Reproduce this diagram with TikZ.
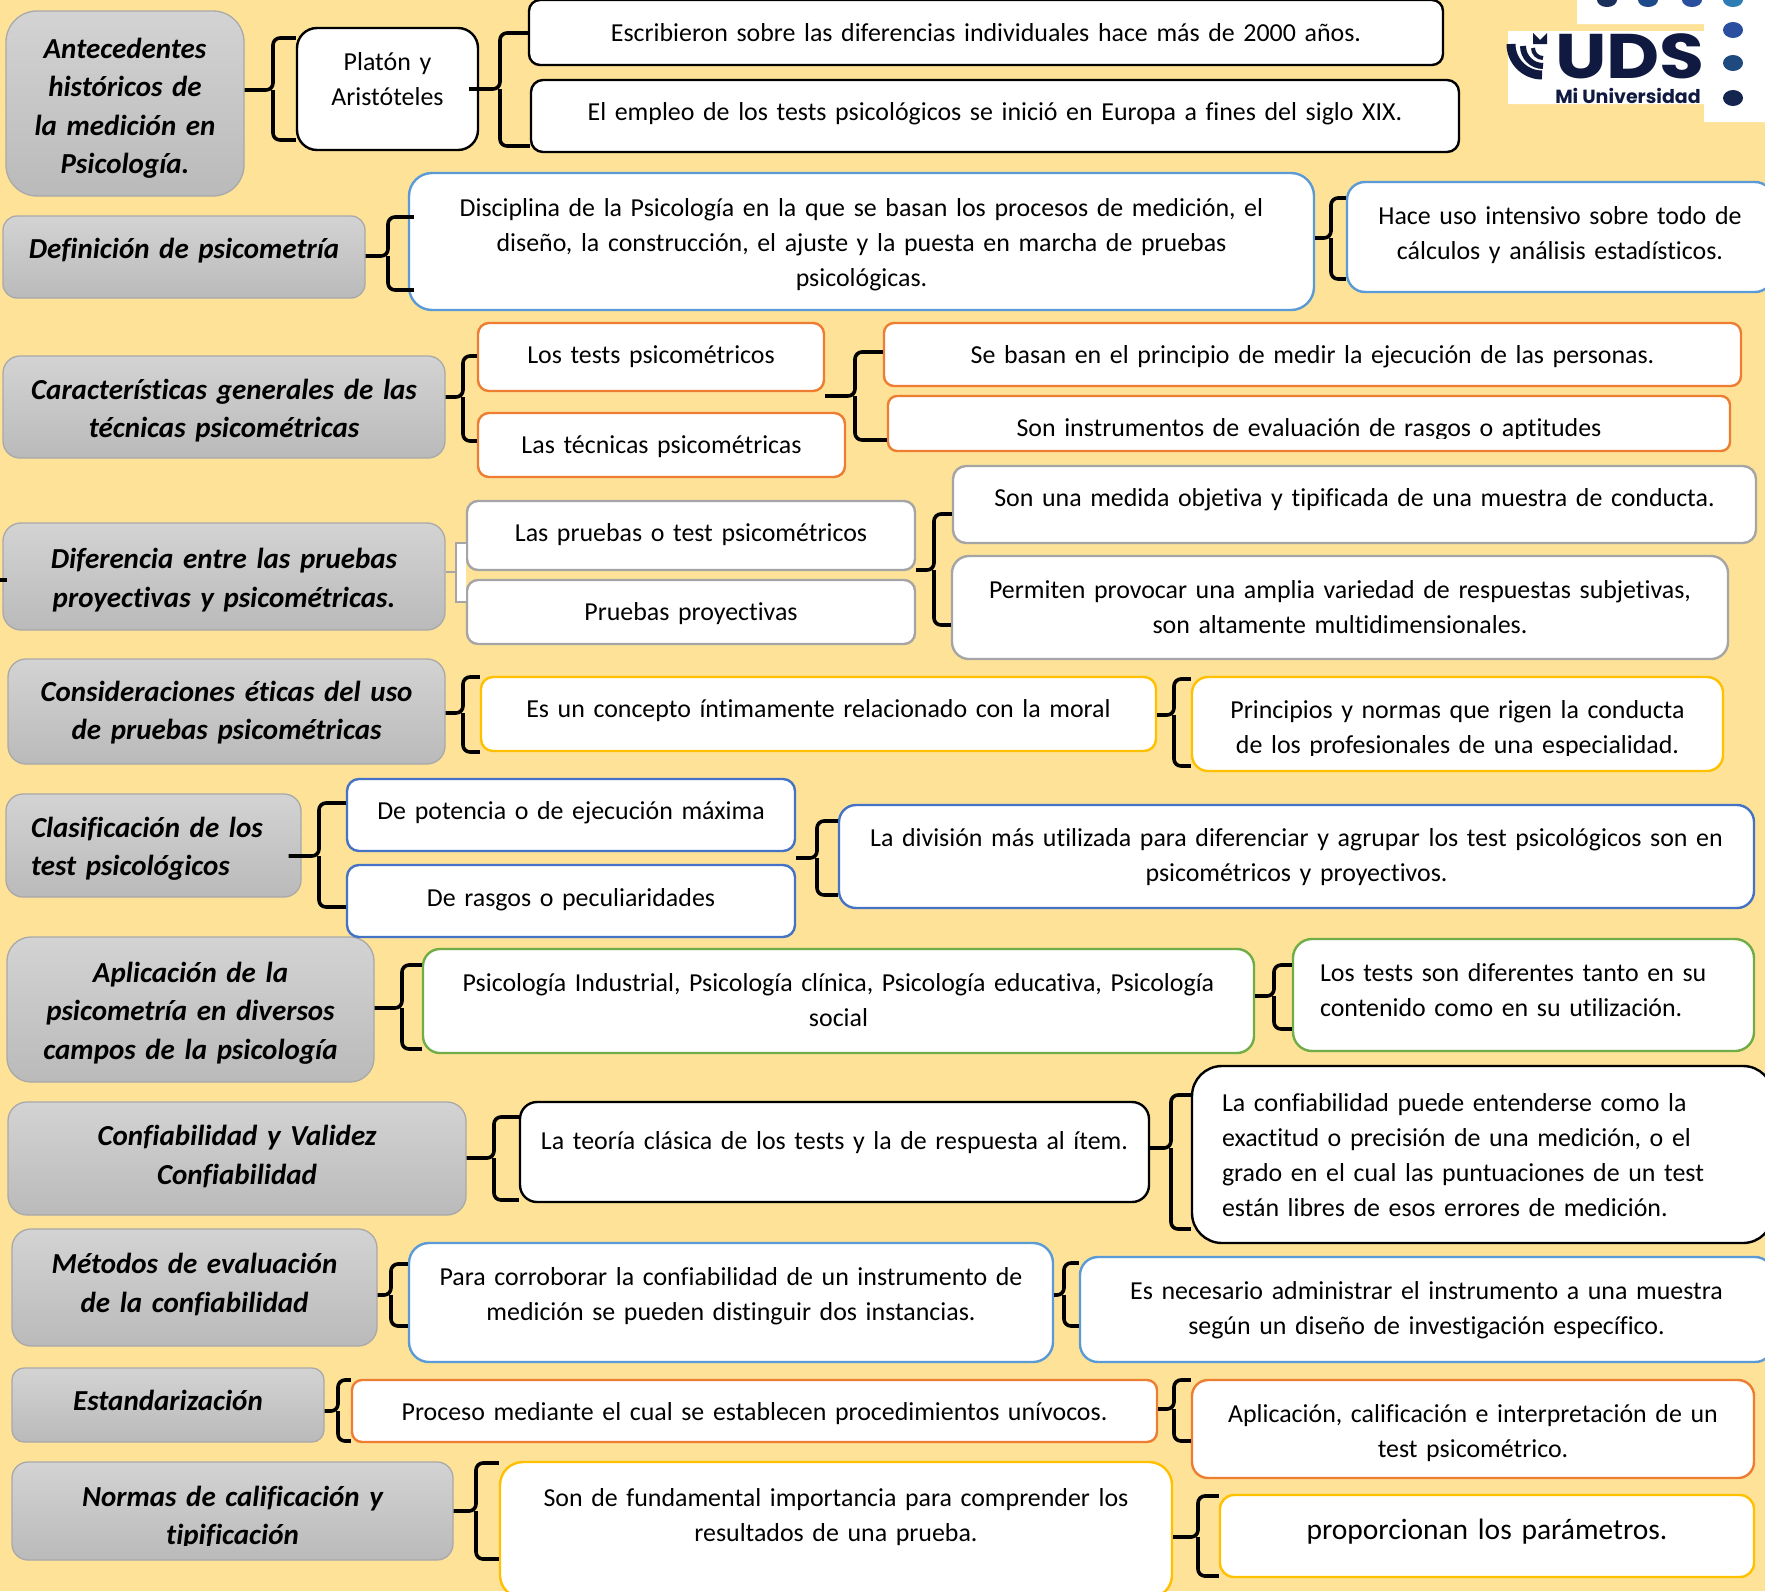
\documentclass[tikz,border=0pt]{standalone}
\usepackage{fontspec}
\setmainfont{Carlito}[Ligatures=NoCommon,WordSpace=0.7]
\newfontfamily\logofont{Poppins}
\usetikzlibrary{positioning}

\definecolor{paper}{HTML}{FEE298}
\definecolor{headtop}{HTML}{D3D3D3}
\definecolor{headbot}{HTML}{BABABA}
\definecolor{headline}{HTML}{A9A9A9}
\definecolor{sky}{HTML}{5B9BD5}
\definecolor{tangerine}{HTML}{ED7D31}
\definecolor{ash}{HTML}{A5A5A5}
\definecolor{gold}{HTML}{FFC000}
\definecolor{royal}{HTML}{4472C4}
\definecolor{leafgreen}{HTML}{70AD47}
\definecolor{navy}{HTML}{101A40}

\newcommand{\headfont}{\fontsize{29}{38.5}\selectfont\bfseries\itshape}
\newcommand{\bodyfont}{\fontsize{25.9}{35}\selectfont}

\tikzset{
	lift/.style={execute at end node={\par\vspace*{#1}}},
	pad/.style={align=left,execute at begin node={\leftskip=#1\relax}}
}

\begin{document}
\begin{tikzpicture}[x=1pt,y=-1pt]
	\tikzstyle{head}=[draw=headline,top color=headtop,bottom color=headbot,align=center,inner sep=0pt,line width=1.3pt,font=\headfont]
	\tikzstyle{leaf}=[draw,fill=white,align=center,inner sep=0pt,line width=2.4pt,font=\bodyfont]
	\tikzstyle{brace}=[line width=3.6pt,rounded corners=7pt]

	\fill[paper] (0,0) rectangle (1765,1591);
	\useasboundingbox (0,0) rectangle (1765,1591);

	% left column
	\node[head,lift=-10pt,text width=238pt,minimum height=185pt,rounded corners=31pt] (g1) at (125,103.5) {Antecedentes\\históricos de\\la medición en\\Psicología.};
	\node[head,lift=13pt,text width=362pt,minimum height=82pt,rounded corners=14pt] (g2) at (184,257) {Definición de psicometría};
	\node[head,lift=-7pt,text width=442pt,minimum height=102pt,rounded corners=17pt] (g3) at (224,407) {Características generales de las\\técnicas psicométricas};
	\node[head,lift=-7pt,text width=442pt,minimum height=107pt,rounded corners=18pt] (g4) at (224,576.5) {Diferencia entre las pruebas\\proyectivas y psicométricas.};
	\node[head,lift=-2pt,text width=437pt,minimum height=105pt,rounded corners=18pt] (g5) at (226.5,711.5) {Consideraciones éticas del uso\\de pruebas psicométricas};
	\node[head,pad=25pt,lift=-7pt,text width=295pt,minimum height=103pt,rounded corners=17pt] (g6) at (153.5,845.5) {Clasificación de los\\test psicológicos};
	\node[head,lift=-7pt,text width=367pt,minimum height=145pt,rounded corners=24pt] (g7) at (190.5,1009.5) {Aplicación de la\\psicometría en diversos\\campos de la psicología};
	\node[head,lift=4pt,text width=458pt,minimum height=113pt,rounded corners=19pt] (g8) at (237,1158.5) {Confiabilidad y Validez\\Confiabilidad};
	\node[head,lift=6pt,text width=365pt,minimum height=117pt,rounded corners=19pt] (g9) at (194.5,1287.5) {Métodos de evaluación\\de la confiabilidad};
	\node[head,lift=9pt,text width=312pt,minimum height=74pt,rounded corners=12pt] (g10) at (168,1405) {Estandarización};
	\node[head,text width=441pt,minimum height=98pt,rounded corners=16pt] (g11) at (232.5,1511) {};
	\begin{scope}
		\clip (12,1462) rectangle (453,1545);
		\node[font=\headfont,align=center,text width=441pt,inner sep=0pt] (g11text) at (232.5,1517.5) {Normas de calificación y\\tipificación};
	\end{scope}

	% row 1
	\node[leaf,lift=19pt,text width=181pt,minimum height=122pt,rounded corners=20pt] (plato) at (387.5,89) {Platón y\\Aristóteles};
	\node[leaf,text width=914pt,minimum height=65pt,rounded corners=11pt] (a1) at (986,32.5) {Escribieron sobre las diferencias individuales hace más de 2000 años.};
	\node[leaf,lift=4.5pt,text width=928pt,minimum height=72pt,rounded corners=12pt] (a2) at (995,116) {El empleo de los tests psicológicos se inició en Europa a fines del siglo XIX.};

	% row 2
	\node[leaf,draw=sky,lift=-7pt,text width=905pt,minimum height=137pt,rounded corners=23pt] (b1) at (861.5,241.5) {Disciplina de la Psicología en la que se basan los procesos de medición, el\\diseño, la construcción, el ajuste y la puesta en marcha de pruebas\\psicológicas.};
	\node[leaf,draw=sky,lift=4pt,text width=426pt,minimum height=110pt,rounded corners=18pt] (b2) at (1560,237) {Hace uso intensivo sobre todo de\\cálculos y análisis estadísticos.};

	% row 3
	\node[leaf,draw=tangerine,text width=346pt,minimum height=68pt,rounded corners=11pt] (c1) at (651,357) {Los tests psicométricos};
	\node[leaf,draw=tangerine,lift=-6pt,text width=367pt,minimum height=64pt,rounded corners=11pt] (c2) at (661.5,445) {Las técnicas psicométricas};
	\node[leaf,draw=tangerine,lift=-4.5pt,text width=857pt,minimum height=63pt,rounded corners=10pt] (c3) at (1312.5,354.5) {Se basan en el principio de medir la ejecución de las personas.};
	\node[leaf,draw=tangerine,text width=842pt,minimum height=55pt,rounded corners=9pt] (c4) at (1309,423.5) {};
	\begin{scope}
		\clip (888,396) rectangle (1730,438);
		\node[font=\bodyfont,align=center,text width=842pt,inner sep=0pt] (c4text) at (1309,430) {Son instrumentos de evaluación de rasgos o aptitudes};
	\end{scope}

	% row 4
	\node[leaf,draw=ash,lift=2pt,text width=448pt,minimum height=69pt,rounded corners=11pt] (d1) at (691,535.5) {Las pruebas o test psicométricos};
	\node[leaf,draw=ash,lift=-4pt,text width=448pt,minimum height=64pt,rounded corners=11pt] (d2) at (691,612) {Pruebas proyectivas};
	\node[leaf,draw=ash,lift=9.5pt,text width=803pt,minimum height=77pt,rounded corners=13pt] (d3) at (1354.5,504.5) {Son una medida objetiva y tipificada de una muestra de conducta.};
	\node[leaf,draw=ash,text width=776pt,minimum height=103pt,rounded corners=17pt] (d4) at (1340,607.5) {Permiten provocar una amplia variedad de respuestas subjetivas,\\son altamente multidimensionales.};

	% row 5
	\node[leaf,draw=gold,lift=7.5pt,text width=675pt,minimum height=74pt,rounded corners=12pt] (e1) at (818.5,714) {Es un concepto íntimamente relacionado con la moral};
	\node[leaf,draw=gold,text width=531pt,minimum height=94pt,rounded corners=16pt] (e2) at (1457.5,724) {};
	\begin{scope}
		\clip (1192,677) rectangle (1723,755);
		\node[font=\bodyfont,align=center,text width=531pt,inner sep=0pt] (e2text) at (1457.5,729) {Principios y normas que rigen la conducta\\de los profesionales de una especialidad.};
	\end{scope}

	% row 6
	\node[leaf,draw=royal,lift=4.5pt,text width=448pt,minimum height=72pt,rounded corners=12pt] (f1) at (571,815) {De potencia o de ejecución máxima};
	\node[leaf,draw=royal,lift=3.5pt,text width=448pt,minimum height=72pt,rounded corners=12pt] (f2) at (571,901) {De rasgos o peculiaridades};
	\node[leaf,draw=royal,lift=-1pt,text width=915pt,minimum height=103pt,rounded corners=17pt] (f3) at (1296.5,856.5) {La división más utilizada para diferenciar y agrupar los test psicológicos son en\\psicométricos y proyectivos.};

	% row 7
	\node[leaf,draw=leafgreen,lift=2pt,text width=831pt,minimum height=104pt,rounded corners=17pt] (h1) at (838.5,1001) {Psicología Industrial, Psicología clínica, Psicología educativa, Psicología\\social};
	\node[leaf,draw=leafgreen,pad=27pt,lift=10pt,text width=461pt,minimum height=112pt,rounded corners=19pt] (h2) at (1523.5,995) {Los tests son diferentes tanto en su\\contenido como en su utilización.};

	% row 8
	\node[leaf,lift=19.5pt,text width=629pt,minimum height=100pt,rounded corners=17pt] (i1) at (834.5,1152) {La teoría clásica de los tests y la de respuesta al ítem.};
	\node[leaf,pad=30pt,lift=-1pt,text width=581pt,minimum height=177pt,rounded corners=30pt] (i2) at (1482.5,1154.5) {La confiabilidad puede entenderse como la\\exactitud o precisión de una medición, o el\\grado en el cual las puntuaciones de un test\\están libres de esos errores de medición.};

	% row 9
	\node[leaf,draw=sky,lift=13.5pt,text width=644pt,minimum height=119pt,rounded corners=20pt] (j1) at (731,1302.5) {Para corroborar la confiabilidad de un instrumento de\\medición se pueden distinguir dos instancias.};
	\node[leaf,draw=sky,lift=-2pt,text width=693pt,minimum height=105pt,rounded corners=18pt] (j2) at (1426.5,1309.5) {Es necesario administrar el instrumento a una muestra\\según un diseño de investigación específico.};

	% row 10
	\node[leaf,draw=tangerine,lift=-4.5pt,text width=805pt,minimum height=62pt,rounded corners=10pt] (k1) at (754.5,1411) {Proceso mediante el cual se establecen procedimientos unívocos.};
	\node[leaf,draw=tangerine,lift=-8pt,text width=562pt,minimum height=98pt,rounded corners=16pt] (k2) at (1473,1429) {Aplicación, calificación e interpretación de un\\test psicométrico.};

	% row 11
	\node[leaf,draw=gold,lift=26pt,text width=672pt,minimum height=136pt,rounded corners=23pt] (l1) at (836,1530) {Son de fundamental importancia para comprender los\\resultados de una prueba.};
	\node[leaf,draw=gold,lift=9.5pt,font=\fontsize{29.5}{35}\selectfont,text width=534pt,minimum height=82pt,rounded corners=14pt] (l2) at (1487,1536) {proporcionan los parámetros.};

	% braces
	\draw[brace] (g1.east |- 0,90) -- (273,90) |- (plato.west |- 0,38) (273,90) |- (plato.west |- 0,140);
	\draw[brace] ([xshift=-10pt]plato.east) -- (500,89) |- (a1.west |- 0,33) (500,89) |- (a2.west |- 0,146);
	\draw[brace] (g2.east |- 0,256) -- (388,256) |- ([xshift=6pt]b1.west |- 0,217) (388,256) |- ([xshift=6pt]b1.west |- 0,290);
	\draw[brace] (b1.east |- 0,238) -- (1331,238) |- (b2.west |- 0,198) (1331,238) |- (b2.west |- 0,279);
	\draw[brace] (g3.east |- 0,397) -- (463,397) |- (c1.west |- 0,356) (463,397) |- (c2.west |- 0,441);
	\draw[brace] (c1.east |- 0,396) -- (855,396) |- (c3.west |- 0,352) (855,396) |- (c4.west |- 0,440);
	\coordinate (stub) at (0,580);
	\draw[brace] (stub) -- ([xshift=5pt]g4.west |- stub);
	\draw[ash,fill=white,line width=2pt] (d1.west |- 0,543) -- (456,543) -- (456,602) -- (d2.west |- 0,602);
	\draw[ash,line width=2pt] (g4.east |- 0,572) -- (456,572);
	\draw[brace] (d1.east |- 0,570) -- (934,570) |- (d3.west |- 0,514) (934,570) |- (d4.west |- 0,625);
	\draw[brace] (g5.east |- 0,713) -- (463,713) |- (e1.west |- 0,677) (463,713) |- (e1.west |- 0,752);
	\draw[brace] (e1.east |- 0,715) -- (1174,715) |- (e2.west |- 0,679) (1174,715) |- (e2.west |- 0,766);
	\draw[brace] ([xshift=-13pt]g6.east |- 0,856) -- (319,856) |- (f1.west |- 0,803) (319,856) |- (f2.west |- 0,907);
	\draw[brace] (f1.east |- 0,858) -- (817,858) |- (f3.west |- 0,821) (817,858) |- (f3.west |- 0,895);
	\draw[brace] (g7.east |- 0,1008) -- (402,1008) |- (h1.west |- 0,965) (402,1008) |- (h1.west |- 0,1049);
	\draw[brace] (h1.east |- 0,996) -- (1274,996) |- (h2.west |- 0,965) (1274,996) |- (h2.west |- 0,1029);
	\draw[brace] (g8.east |- 0,1158) -- (494,1158) |- (i1.west |- 0,1117) (494,1158) |- (i1.west |- 0,1200);
	\draw[brace] (i1.east |- 0,1148) -- (1171,1148) |- (i2.west |- 0,1095) (1171,1148) |- (i2.west |- 0,1229);
	\draw[brace] (g9.east |- 0,1295) -- (391,1295) |- (j1.west |- 0,1264) (391,1295) |- (j1.west |- 0,1326);
	\draw[brace] (j1.east |- 0,1295) -- (1064,1295) |- (j2.west |- 0,1263) (1064,1295) |- (j2.west |- 0,1326);
	\draw[brace] (g10.east |- 0,1411) -- (338,1411) |- (k1.west |- 0,1380) (338,1411) |- (k1.west |- 0,1441);
	\draw[brace] (k1.east |- 0,1409) -- (1174,1409) |- (k2.west |- 0,1380) (1174,1409) |- (k2.west |- 0,1441);
	\draw[brace] (g11.east |- 0,1511) -- (476,1511) |- (l1.west |- 0,1463) (476,1511) |- (l1.west |- 0,1559);
	\draw[brace] (l1.east |- 0,1537) -- (1198,1537) |- (l2.west |- 0,1496) (1198,1537) |- (l2.west |- 0,1576);

	% logo
	\fill[white] (1577,0) rectangle (1765,24) (1704,0) rectangle (1765,122) (1508,31) rectangle (1704,104);
	\foreach \x/\dotcol in {1607/1B2F5B,1648/1F4A8A,1692/2A4F9E,1733/2E7DB5} {
		\definecolor{dotcol}{HTML}{\dotcol}
		\fill[dotcol] (\x,0) ellipse (10 and 7);
	}
	\foreach \y/\dotcol in {30/2A4F9E,63/1F4A80,98/14264F} {
		\definecolor{dotcol}{HTML}{\dotcol}
		\fill[dotcol] (1733,\y) ellipse (10 and 8);
	}
	\node[navy,font=\logofont\fontsize{63}{63}\selectfont\bfseries,inner sep=0pt,xscale=1.16,transform shape,text height=44pt,text depth=0pt] (uds) at (1630,56) {UDS};
	\node[navy,font=\logofont\fontsize{19}{19}\selectfont\bfseries,inner sep=0pt,text height=13pt,text depth=0pt] (motto) at (1628,97) {Mi Universidad};
	\draw[navy,line width=9pt] (1511,44) arc[start angle=180,end angle=90,radius=31];
	\draw[navy,line width=6pt] (1523,46) arc[start angle=180,end angle=90,radius=20];
	\draw[navy,line width=4pt] (1533,48) arc[start angle=180,end angle=90,radius=10];
	\fill[navy] (1533,33) -- (1540,40) -- (1547,33) -- (1547,44) -- (1533,44) -- cycle;
\end{tikzpicture}
\end{document}
